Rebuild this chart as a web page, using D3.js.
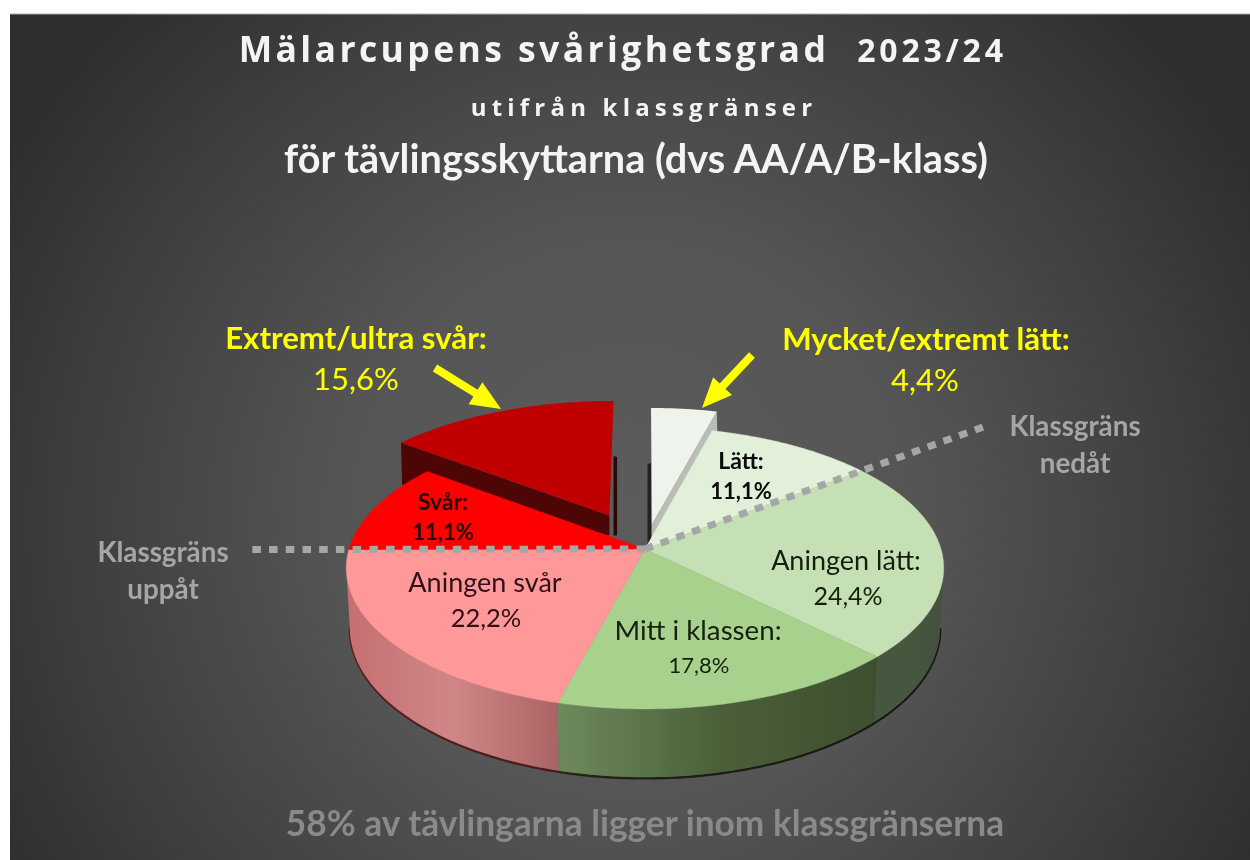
<!DOCTYPE html>
<html><head><meta charset="utf-8">
<script src="https://cdn.jsdelivr.net/npm/d3@7"></script>
<style>html,body{margin:0;padding:0;background:#fff}svg{display:block;filter:blur(0.7px)}</style>
</head><body><div id="chart"></div>
<script>
const categories=["Mycket/extremt lätt","Lätt","Aningen lätt","Mitt i klassen","Aningen svår","Svår","Extremt/ultra svår"];
const values=[4.4,11.1,24.4,17.8,22.2,11.1,15.6];
const labels=["4,4%","11,1%","24,4%","17,8%","22,2%","11,1%","15,6%"];
const topColors=["#eef4ec","#e2f0d9","#c5e0b4","#a9d18e","#ff9999","#ff0000","#c00000"];
const explode=[0.183,0,0,0,0,0,0.28];

const W=1250,H=860,cx=645,cy=549,rx0=296,ry0=138.4,k=0.135,z0=59;
const svg=d3.select("#chart").append("svg").attr("width",W).attr("height",H);
const defs=svg.append("defs");
const bg=defs.append("radialGradient").attr("id","bg").attr("gradientUnits","userSpaceOnUse")
  .attr("cx",630).attr("cy",520).attr("r",720);
[[0,"#5c5c5c"],[0.4,"#555555"],[0.75,"#3f3f3f"],[1,"#2e2e2e"]].forEach(s=>bg.append("stop").attr("offset",s[0]).attr("stop-color",s[1]));
svg.append("rect").attr("x",10).attr("y",14).attr("width",W-10).attr("height",H-14).attr("fill","url(#bg)");
svg.append("line").attr("x1",10).attr("x2",W).attr("y1",14).attr("y2",14).attr("stroke","#aaa").attr("stroke-width",1);

const pie=d3.pie().sort(null).value(d=>d)(values);
function proj(X,Y,z=0){const w=1-k*Y;const sh=1-0.012*(z/z0);return [cx+rx0*X/w*sh,cy+ry0*Y/w+z/w];}
function pt(a,r,off,z){return proj(off[0]+r*Math.sin(a),off[1]-r*Math.cos(a),z);}
const line=d3.line();
function offOf(i){const m=(pie[i].startAngle+pie[i].endAngle)/2;return [explode[i]*Math.sin(m),-explode[i]*Math.cos(m)];}
function arcPts(a0,a1,off,z){const n=Math.max(6,Math.ceil((a1-a0)/0.02));return d3.range(n+1).map(j=>pt(a0+(a1-a0)*j/n,1,off,z));}
function topPath(i){const o=offOf(i),p=pie[i];return line([pt(0,0,o,0),...arcPts(p.startAngle,p.endAngle,o,0)])+"Z";}

/* exploded slices: cut faces first */
function drawExploded(i,faceColor,sideColor,sideX,rimDepth,apexDepth,cutAngle){
  const o=offOf(i),ap=pt(0,0,o,0),c=pt(cutAngle,1,o,0);
  svg.append("path").attr("d",line([ap,c,[c[0]+1,c[1]+rimDepth],[ap[0],ap[1]+apexDepth]])+"Z").attr("fill",faceColor);
  const p=pie[i],a=pt(p.startAngle===0?0:p.endAngle%(2*Math.PI),1,o,0);
  svg.append("path").attr("d",line([[a[0],a[1]+55],[a[0]+sideX,a[1]+56],[a[0]+sideX,ap[1]+apexDepth],[a[0],ap[1]+apexDepth]])+"Z").attr("fill",sideColor);
  svg.append("path").attr("d",topPath(i)).attr("fill",topColors[i]);
}
drawExploded(6,"#4d0505","#2a0808",3.5,42,20,pie[6].startAngle);
drawExploded(0,"#b9bdb6","#222222",-3.5,40,20,pie[0].endAngle);

/* rim of the un-exploded part */
const A=d3.scaleLinear().domain([0,360]).range([0,2*Math.PI]);
const rimVis=[A(97.8),A(262.2)];
const rimStops={2:["#465640","#47573f","#454f40"],3:["#6e8a5c","#4a6039","#3e4f30"],4:["#c56f72","#d08687","#ab6465"]};
/* shadow line under the rim: dark red on the pink part, near-black on the green part */
const shGrad=defs.append("linearGradient").attr("id","rimShadow").attr("gradientUnits","userSpaceOnUse").attr("x1",345).attr("x2",945).attr("y1",0).attr("y2",0);
[[0,"#5a2020"],[0.33,"#4a1c1c"],[0.4,"#1e2418"],[1,"#141612"]].forEach(s=>shGrad.append("stop").attr("offset",s[0]).attr("stop-color",s[1]));
const shPts=arcPts(rimVis[0],rimVis[1],[0,0],z0+1);
svg.append("path").attr("d",line(shPts)).attr("fill","none").attr("stroke","url(#rimShadow)").attr("stroke-width",2.5).attr("stroke-linecap","round");
[4,3,2].forEach(i=>{
  const a0=Math.max(pie[i].startAngle,rimVis[0]),a1=Math.min(pie[i].endAngle,rimVis[1]);
  const tp=arcPts(a0,a1,[0,0],0),bp=arcPts(a0,a1,[0,0],z0);
  const xs=tp.map(d=>d[0]),x0=d3.min(xs),x1=d3.max(xs);
  const g=defs.append("linearGradient").attr("id","rim"+i).attr("gradientUnits","userSpaceOnUse").attr("x1",i===4?x0:x1).attr("x2",i===4?x1:x0).attr("y1",0).attr("y2",0);
  const s=rimStops[i];const ss=i===4?s:[s[2],s[1],s[0]];
  ss.forEach((c,j)=>g.append("stop").attr("offset",j/2).attr("stop-color",c));
  svg.append("path").attr("d",line([...tp,...bp.reverse()])+"Z").attr("fill",`url(#rim${i})`);
});

/* top faces */
[1,2,3,4,5].forEach(i=>svg.append("path").attr("d",topPath(i)).attr("fill",topColors[i]).attr("stroke",topColors[i]).attr("stroke-width",0.4));

/* class-limit dotted lines, along slice boundaries */
const dot=(a,r)=>{const p0=pt(a,0,[0,0],0),p1=pt(a,r,[0,0],0);
  svg.append("path").attr("d",line([p0,p1])).attr("stroke","#a6a6a6").attr("stroke-width",7).attr("stroke-dasharray","8.5 8.2").attr("fill","none");};
dot(pie[5].startAngle,1.335);
dot(pie[2].startAngle,1.647);

/* arrows */
function arrow(t,h){const dx=h[0]-t[0],dy=h[1]-t[1],L=Math.hypot(dx,dy),ux=dx/L,uy=dy/L,nx=-uy,ny=ux,hl=30,hw=13,sw=4;
  const b=[h[0]-ux*hl,h[1]-uy*hl];
  svg.append("path").attr("fill","#ffff00").attr("d",line([
    [t[0]+nx*sw,t[1]+ny*sw],[b[0]+nx*sw,b[1]+ny*sw],[b[0]+nx*hw,b[1]+ny*hw],h,[b[0]-nx*hw,b[1]-ny*hw],[b[0]-nx*sw,b[1]-ny*sw],[t[0]-nx*sw,t[1]-ny*sw]])+"Z");}
arrow([435,368],[501,409]);
arrow([752,355],[702,408]);

/* texts */
function txt(s,x,y,size,fill,o={}){return svg.append("text").text(s).attr("x",x).attr("y",y).attr("font-size",size)
  .attr("fill",fill).attr("text-anchor",o.anchor||"middle").attr("font-weight",o.w||400)
  .attr("font-family",o.f||"Lato, sans-serif").attr("letter-spacing",o.ls||0).attr("word-spacing",o.ws||0);}
txt("Mälarcupens svårighetsgrad",534,62,35.5,"#f4f4f4",{w:700,f:"'Open Sans'",ls:3.4});
txt("2023/24",932,62,32,"#f4f4f4",{w:700,f:"'Open Sans'",ls:3.8});
txt("utifrån klassgränser",644,116,24,"#f4f4f4",{w:700,f:"'Open Sans'",ls:5.2});
txt("för tävlingsskyttarna (dvs AA/A/B-klass)",636,173,39.7,"#f4f4f4",{w:700,f:"Lato"});
txt(categories[6]+":",356,349,31.2,"#ffff00",{w:700});
txt(labels[6],356,390,31,"#ffff00");
txt(categories[0]+":",926,350,31.2,"#ffff00",{w:700});
txt(labels[0],925,391,31,"#ffff00");
txt("Klassgräns",1075,436,27.8,"#a6a6a6",{w:700});
txt("nedåt",1075,473,27.8,"#a6a6a6",{w:700});
txt("Klassgräns",163,562,27.8,"#a6a6a6",{w:700});
txt("uppåt",163,599,27.8,"#a6a6a6",{w:700});
const dark="#141f0e";
txt(categories[1]+":",741,469,23,"#0a0a0a",{w:700});
txt(labels[1],741,499,22,"#0a0a0a",{w:700});
txt(categories[5]+":",443,510,23,"#240808",{w:700});
txt(labels[5],443,540,22,"#240808",{w:700});
txt(categories[2]+":",846,570,27,dark);
txt(labels[2],848,605,25,dark);
txt(categories[4],485,592,27,"#32101a");
txt(labels[4],486,627,25.5,"#32101a");
txt(categories[3]+":",698,640,27.7,dark);
txt(labels[3],699,673,22,dark);
txt("58% av tävlingarna ligger inom klassgränserna",645,836,35.3,"#8a8a8a",{w:700,f:"Lato"});
</script></body></html>
